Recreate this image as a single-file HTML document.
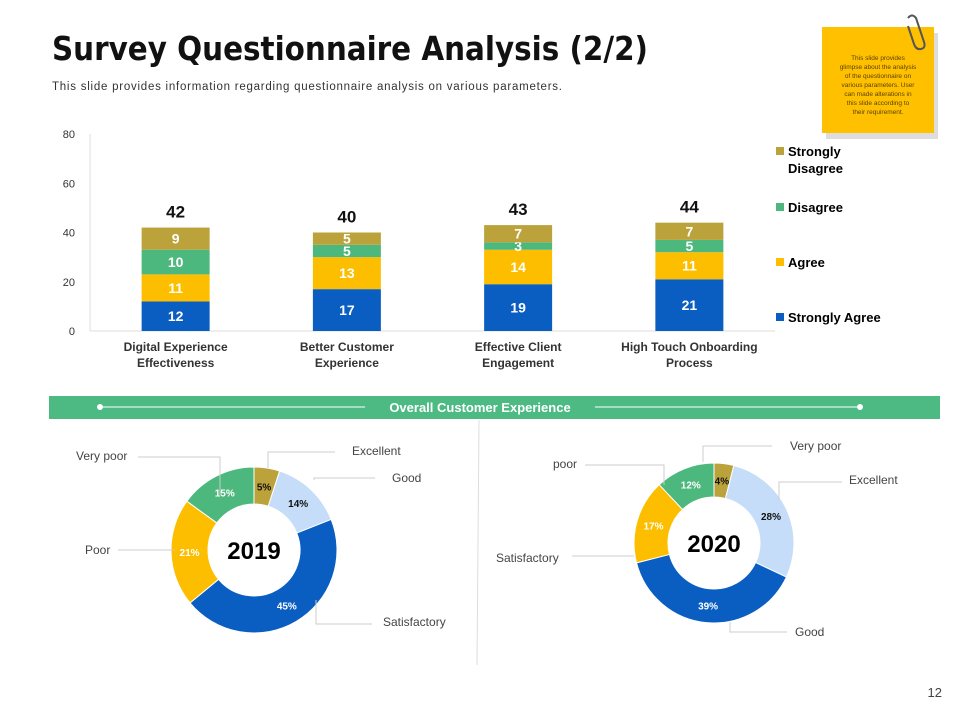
<!DOCTYPE html>
<html><head><meta charset="utf-8">
<style>
body{margin:0;background:#fff;}
svg{display:block;font-family:"Liberation Sans",Arial,sans-serif;}
</style></head>
<body>
<svg id="s" width="960" height="720" viewBox="0 0 960 720" xmlns="http://www.w3.org/2000/svg">
<text x="52" y="60" font-size="33" font-weight="bold" font-family="DejaVu Sans Condensed, DejaVu Sans, Liberation Sans, sans-serif" textLength="596" lengthAdjust="spacingAndGlyphs" fill="#111">Survey Questionnaire Analysis (2/2)</text>
<text x="52" y="90" font-size="11.5" fill="#333" textLength="510">This slide provides information regarding questionnaire analysis on various parameters.</text>

<g>
<rect x="826" y="33" width="112" height="106" fill="#ddd"/>
<rect x="822" y="27" width="112" height="106" fill="#FFC000"/>
<text font-size="6.5" fill="#5a4300" text-anchor="middle">
<tspan x="878" y="60">This slide provides</tspan><tspan x="878" y="69">glimpse about the analysis</tspan><tspan x="878" y="78">of the questionnaire  on</tspan><tspan x="878" y="87">various parameters. User</tspan><tspan x="878" y="96">can made alterations  in</tspan><tspan x="878" y="105">this slide according  to</tspan><tspan x="878" y="114">their requirement.</tspan></text>
<path d="M908 18 q4 -5 8 0 l8 24 q2 6 -3 7 q-5 1 -7 -5 l-6 -18" fill="none" stroke="#555" stroke-width="2"/>
</g>

<g id="bar-chart"></g>

<g>
<rect x="776" y="147" width="8" height="8" fill="#BBA23A"/><text x="788" y="156" font-size="13" font-weight="bold">Strongly</text><text x="788" y="173" font-size="13" font-weight="bold">Disagree</text>
<rect x="776" y="203" width="8" height="8" fill="#4DB87D"/><text x="788" y="212" font-size="13" font-weight="bold">Disagree</text>
<rect x="776" y="258" width="8" height="8" fill="#FDBE00"/><text x="788" y="267" font-size="13" font-weight="bold">Agree</text>
<rect x="776" y="313" width="8" height="8" fill="#0A5EC2"/><text x="788" y="322" font-size="13" font-weight="bold">Strongly Agree</text>
</g>

<g>
<rect x="49" y="396" width="891" height="23" fill="#4DBA83"/>
<line x1="100" y1="407" x2="365" y2="407" stroke="#fff" stroke-width="1"/>
<line x1="595" y1="407" x2="860" y2="407" stroke="#fff" stroke-width="1"/>
<circle cx="100" cy="407" r="3" fill="#fff"/><circle cx="860" cy="407" r="3" fill="#fff"/>
<text x="480" y="412" font-size="13" font-weight="bold" fill="#fff" text-anchor="middle">Overall Customer Experience</text>
</g>
<line x1="479" y1="420" x2="477" y2="665" stroke="#ddd"/>

<g id="donuts"></g>
<g font-size="12" fill="#444" stroke-width="1">
<g stroke="#ccc" fill="none">
<polyline points="220,495 220,457 138,457"/>
<polyline points="268,468 268,452 335,452"/>
<polyline points="314,480 314,478 375,478"/>
<polyline points="175,550 118,550"/>
<polyline points="316,600 316,624 372,624"/>
<polyline points="664,485 664,465 585,465"/>
<polyline points="703,462 703,446 772,446"/>
<polyline points="779,500 779,482 842,482"/>
<polyline points="634,556 572,556"/>
<polyline points="730,622 730,632 787,632"/>
</g>
<text x="76" y="460" fill="#444" stroke="none">Very poor</text>
<text x="352" y="455" fill="#444" stroke="none">Excellent</text>
<text x="392" y="482" fill="#444" stroke="none">Good</text>
<text x="85" y="554" fill="#444" stroke="none">Poor</text>
<text x="383" y="626" fill="#444" stroke="none">Satisfactory</text>
<text x="553" y="468" fill="#444" stroke="none">poor</text>
<text x="790" y="450" fill="#444" stroke="none">Very poor</text>
<text x="849" y="484" fill="#444" stroke="none">Excellent</text>
<text x="496" y="562" fill="#444" stroke="none">Satisfactory</text>
<text x="795" y="636" fill="#444" stroke="none">Good</text>
</g>
<text x="942" y="697" font-size="13" fill="#444" text-anchor="end">12</text>

<script>
var categories=[["Digital Experience","Effectiveness"],["Better Customer","Experience"],["Effective Client","Engagement"],["High Touch Onboarding","Process"]];
var stronglyAgree=[12,17,19,21];
var agree=[11,13,14,11];
var disagree=[10,5,3,5];
var stronglyDisagree=[9,5,7,7];
var yTicks=[0,20,40,60,80];
var d2019Labels=["Excellent","Good","Satisfactory","Poor","Very poor"];
var d2019Values=[5,14,45,21,15];
var d2020Labels=["Very poor","Excellent","Good","Satisfactory","poor"];
var d2020Values=[4,28,39,17,12];

var NS="http://www.w3.org/2000/svg";
function mk(p,t,a){var e=document.createElementNS(NS,t);for(var k in a)e.setAttribute(k,a[k]);p.appendChild(e);return e;}
var bc=document.getElementById('bar-chart');
var X0=90,X1=775,Y0=331,Y1=134;
function y(v){return Y0-(v/80)*(Y0-Y1);}
function xc(i){return X0+(X1-X0)*(i+0.5)/categories.length;}
yTicks.forEach(function(t){
  var e=mk(bc,'text',{x:75,y:y(t)+4,'font-size':11,fill:'#333','text-anchor':'end'});e.textContent=t;
  
  
});
var ax=mk(bc,'line',{x1:X0,y1:Y1,x2:X0,y2:Y0,stroke:'#ddd'});


var ax2=mk(bc,'line',{x1:X0,y1:Y0,x2:X1,y2:Y0,stroke:'#ddd'});


var series=[[stronglyAgree,'#0A5EC2','strongly-agree'],[agree,'#FDBE00','agree'],[disagree,'#4DB87D','disagree'],[stronglyDisagree,'#BBA23A','strongly-disagree']];
categories.forEach(function(c,i){
  var cum=0,cx=xc(i),w=68;
  series.forEach(function(s){
    var v=s[0][i];
    var r=mk(bc,'rect',{x:cx-w/2,y:y(cum+v),width:w,height:y(cum)-y(cum+v),fill:s[1]});
    
    
    var t=mk(bc,'text',{x:cx,y:(y(cum)+y(cum+v))/2+5,'font-size':14,'font-weight':'bold',fill:'#fff','text-anchor':'middle'});t.textContent=v;
    
    
    cum+=v;
  });
  var tt=mk(bc,'text',{x:cx,y:y(cum)-10,'font-size':17,'font-weight':'bold',fill:'#111','text-anchor':'middle'});tt.textContent=cum;
  
  
  c.forEach(function(l,j){
    var ct=mk(bc,'text',{x:cx,y:351+j*16,'font-size':12,'font-weight':'bold',fill:'#333','text-anchor':'middle'});ct.textContent=l;
    
    
  });
});

var dg=document.getElementById('donuts');
function donut(cx,cy,R,r,labels,vals,colors,dark,year){
  var tot=vals.reduce(function(a,b){return a+b;},0),a0=0;
  vals.forEach(function(v,i){
    var a1=a0+v/tot*2*Math.PI;
    function P(rad,a){return [cx+rad*Math.sin(a),cy-rad*Math.cos(a)];}
    var p1=P(R,a0),p2=P(R,a1),p3=P(r,a1),p4=P(r,a0),lg=(a1-a0)>Math.PI?1:0;
    var d='M'+p1+' A'+R+','+R+' 0 '+lg+' 1 '+p2+' L'+p3+' A'+r+','+r+' 0 '+lg+' 0 '+p4+'Z';
    var p=mk(dg,'path',{d:d,fill:colors[i],stroke:'#fff','stroke-width':1});
    
    
    var m=P((R+r)/2,(a0+a1)/2);
    var t=mk(dg,'text',{x:m[0],y:m[1]+4,'font-size':10,'font-weight':'bold',fill:dark[i]?'#111':'#fff','text-anchor':'middle'});t.textContent=v+'%';
    
    
    a0=a1;
  });
  var yt=mk(dg,'text',{x:cx,y:cy+9,'font-size':24,'font-weight':'bold',fill:'#000','text-anchor':'middle'});yt.textContent=year;
  
  
}
donut(254,550,83,46,d2019Labels,d2019Values,['#BBA23A','#C5DDF8','#0A5EC2','#FDBE00','#4DB87D'],[1,1,0,0,0],'2019');
donut(714,543,80,46,d2020Labels,d2020Values,['#BBA23A','#C5DDF8','#0A5EC2','#FDBE00','#4DB87D'],[1,1,0,0,0],'2020');
</script>
</svg>
</body></html>
